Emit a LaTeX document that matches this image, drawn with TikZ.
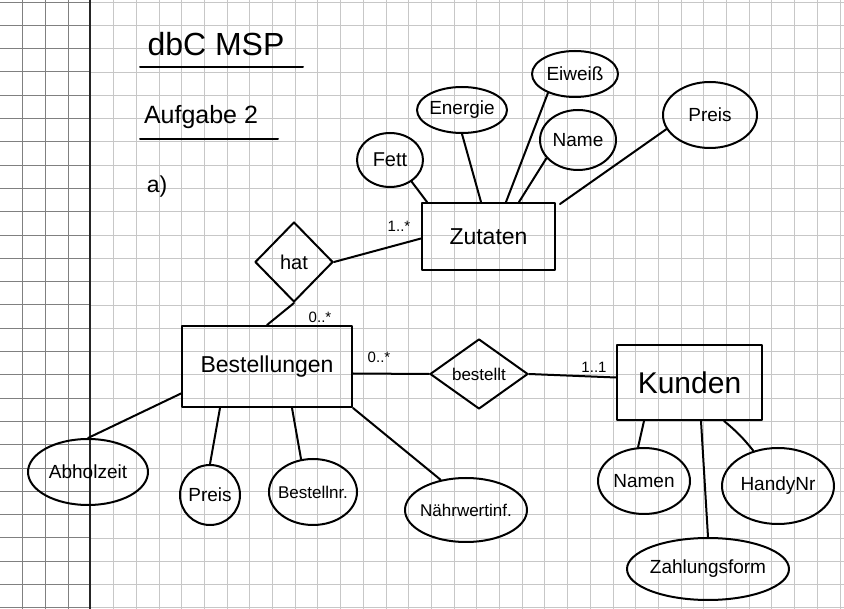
\documentclass[tikz,border=0pt]{standalone}
\usepackage{fontspec}
\setmainfont{Liberation Sans}
\usetikzlibrary{shapes.geometric,calc}
\begin{document}
\begin{tikzpicture}[x=1pt,y=-1pt,
  ink/.style={line width=2pt, black, line cap=round, line join=round},
  entity/.style={draw, ink, rectangle, inner sep=0pt},
  rel/.style={draw, ink, diamond, inner sep=0pt},
  attr/.style={draw, ink, ellipse, inner sep=0pt},
  conn/.style={ink},
  fs/.style={font=\fontsize{#1}{#1}\selectfont},
  txt/.style 2 args={label={[fs=#1]center:#2}},
  card/.style={fs=15},
  gridlight/.style={black!22, line width=0.7pt},
  griddark/.style={black!50, line width=0.8pt}]
\useasboundingbox (0,0) rectangle (844,609);
\fill[white] (0,0) rectangle (844,609);
% grid paper
\foreach \i in {5,...,37} \draw[gridlight] ({22.7*\i},0) -- ({22.7*\i},609);
\foreach \j in {0,...,26} \draw[gridlight] (90,{2+23.3*\j}) -- (844,{2+23.3*\j});
\foreach \i in {1,...,3} \draw[griddark] ({22.7*\i},0) -- ({22.7*\i},609);
\foreach \j in {0,...,26} \draw[griddark] (0,{2+23.3*\j}) -- (90,{2+23.3*\j});
\draw[black!85, line width=1.6pt] (90,0) -- (90,609);

% heading
\node[fs=32] (t1) at (216,44) {dbC MSP};
\draw[ink] (140,67) -- (303,67);
\node[fs=25] (t2) at (201,117) {Aufgabe 2};
\draw[ink] (140,139) -- (278,139);
\node[fs=23] (t3) at (157,187) {a)};

% entities
\node[entity, minimum width=133, minimum height=67, txt={23}{Zutaten}] (zut) at (488.5,236.5) {};
\node[entity, minimum width=170, minimum height=81, txt={23}{Bestellungen}] (best) at (267,366.5) {};
\node[entity, minimum width=145, minimum height=75, txt={30}{Kunden}] (kun) at (689.5,382.5) {};

% relationships
\node[rel, minimum width=78, minimum height=80, txt={20}{hat}] (hat) at (294,262) {};
\node[rel, minimum width=98, minimum height=70, txt={17}{bestellt}] (bes) at (479,374) {};

% attributes of Zutaten
\node[attr, minimum width=66, minimum height=54, txt={20}{Fett}] (fett) at (390,160) {};
\node[attr, minimum width=90, minimum height=46, txt={19}{Energie}] (ener) at (462,110) {};
\node[attr, minimum width=86, minimum height=46, txt={19}{Eiweiß}] (eiw) at (575,74) {};
\node[attr, minimum width=76, minimum height=60, txt={19}{Name}] (name) at (578,140) {};
\node[attr, minimum width=94, minimum height=66, txt={19}{Preis}] (preisz) at (710,115) {};

% attributes of Bestellungen
\node[attr, minimum width=120, minimum height=66, txt={19}{Abholzeit}] (abh) at (88,472) {};
\node[attr, minimum width=60, minimum height=60, txt={19}{Preis}] (preisb) at (210,495) {};
\node[attr, minimum width=88, minimum height=66, txt={17}{Bestellnr.}] (bnr) at (313,492) {};
\node[attr, minimum width=122, minimum height=64, txt={17}{Nährwertinf.}] (naehr) at (466,510) {};

% attributes of Kunden
\node[attr, minimum width=92, minimum height=66, txt={19}{Namen}] (namen) at (644,481) {};
\node[attr, minimum width=112, minimum height=76, txt={19}{HandyNr}] (handy) at (778,486) {};
\node[attr, minimum width=162, minimum height=62, txt={19}{Zahlungsform}] (zahl) at (708,569) {};

% connectors
\draw[conn] (fett.-45) -- ($(zut.north west)+(6,0)$);
\draw[conn] (ener.south) -- ($(zut.north west)+(60,0)$);
\draw[conn] (eiw.-145) -- ($(zut.north west)+(85,0)$);
\draw[conn] (name.-150) -- ($(zut.north west)+(98,0)$);
\draw[conn] (preisz.-162) -- ($(zut.north east)+(4,2)$);
\draw[conn] (hat.east) -- ($(zut.west)+(0,2)$);
\draw[conn] (hat.south) -- (best.north);
\draw[conn] ($(best.east)+(0,7)$) -- (bes.west);
\draw[conn] (bes.east) -- ($(kun.west)+(0,-5)$);
\draw[conn] (abh.north) -- ($(best.west)+(0,27)$);
\draw[conn] (preisb.north) -- ($(best.south west)+(39,0)$);
\draw[conn] (bnr.110) -- ($(best.south west)+(111,0)$);
\draw[conn] (naehr.130) -- (best.south east);
\draw[conn] (namen.100) -- ($(kun.south west)+(28,0)$);
\draw[conn] (zahl.north) -- ($(kun.south west)+(85,0)$);
\draw[conn] (handy.125) to[bend right=6] ($(kun.south west)+(108,0)$);

% cardinalities
\node[card] (c1) at (399,226) {1..*};
\node[card] (c2) at (320,317) {0..*};
\node[card] (c3) at (379,357) {0..*};
\node[card] (c4) at (594,367) {1..1};
\end{tikzpicture}
\end{document}
